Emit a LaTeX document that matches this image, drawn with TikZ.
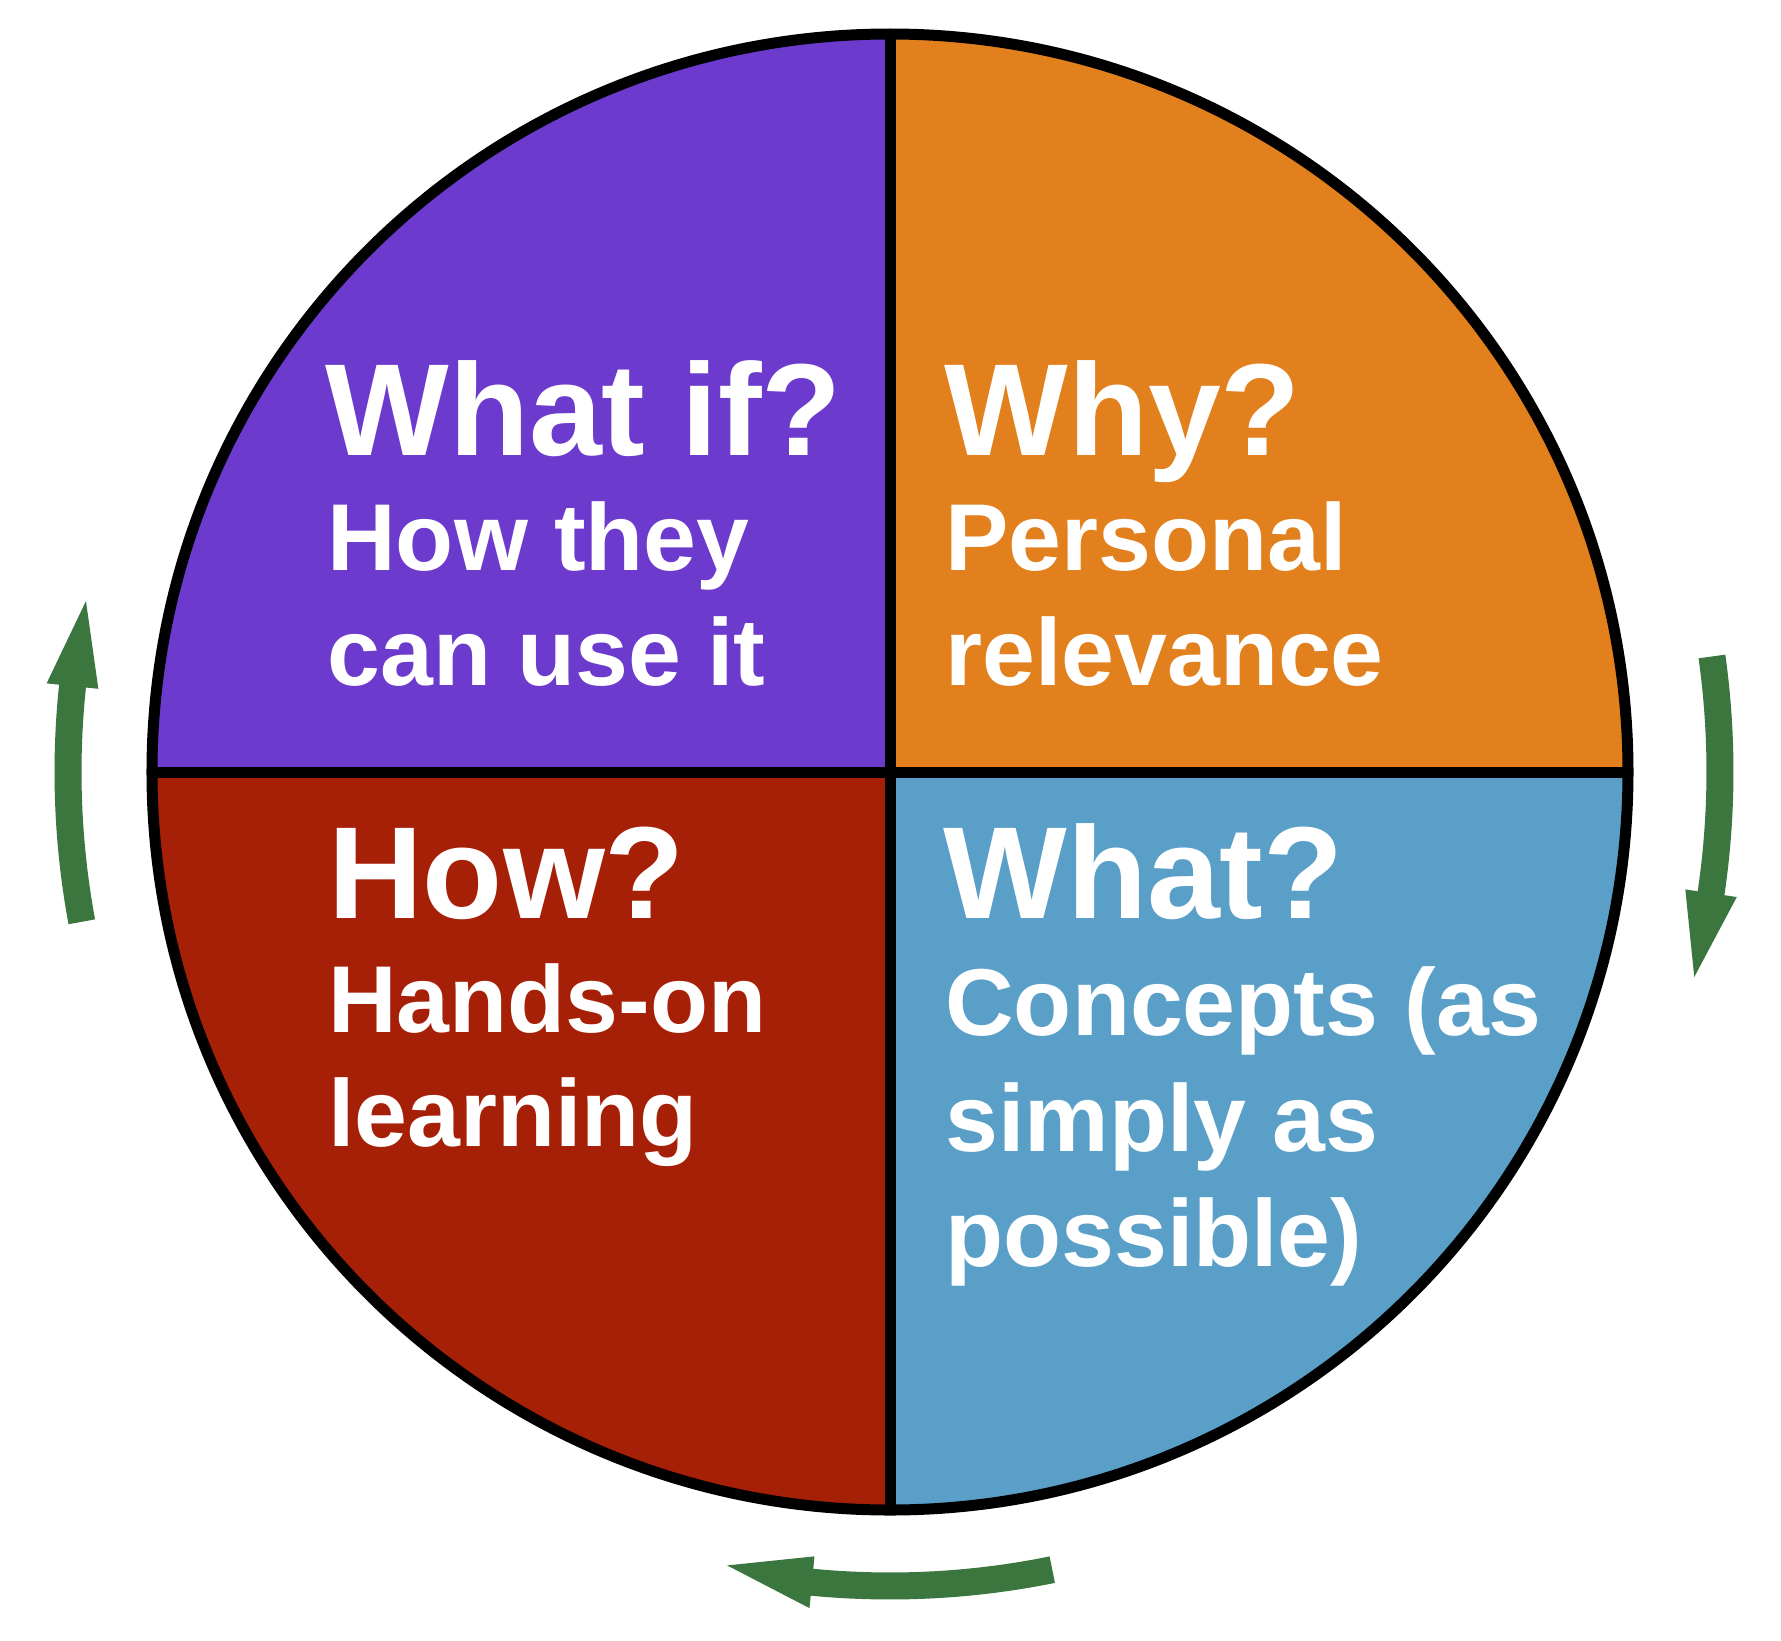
\documentclass[tikz,border=0pt]{standalone}
\usepackage{fontspec}
\setmainfont{Liberation Sans}
\definecolor{qpurple}{RGB}{108,58,205}
\definecolor{qorange}{RGB}{227,128,30}
\definecolor{qred}{RGB}{166,32,8}
\definecolor{qblue}{RGB}{89,159,199}
\definecolor{cycgreen}{RGB}{58,118,62}
\begin{document}
\begin{tikzpicture}[x=0.5pt,y=0.5pt,
  titletext/.style={anchor=base west, inner sep=0pt, text=white, font=\fontsize{65.5}{70}\selectfont\bfseries},
  subtext/.style={anchor=base west, inner sep=0pt, text=white, font=\fontsize{47.5}{52}\selectfont\bfseries},
  divider/.style={draw=black, line width=5.5pt},
  wheel/.style={circle, draw=black, line width=5.5pt, minimum size=738pt, inner sep=0pt},
  shaft/.style={draw=cycgreen, line width=13.5pt},
  head/.style={fill=cycgreen}]
\useasboundingbox[fill=white] (-890,-868) rectangle (891,772);
\coordinate (C) at (0,0);
\coordinate (top) at (0,738);
\coordinate (bot) at (0,-738);
\coordinate (lft) at (-738,0);
\coordinate (rgt) at (738,0);
% quadrants
\fill[qorange] (C) -- (rgt) arc[start angle=0, end angle=90, radius=738] -- cycle;
\fill[qpurple] (C) -- (top) arc[start angle=90, end angle=180, radius=738] -- cycle;
\fill[qred] (C) -- (lft) arc[start angle=180, end angle=270, radius=738] -- cycle;
\fill[qblue] (C) -- (bot) arc[start angle=270, end angle=360, radius=738] -- cycle;
% dividers
\draw[divider] (top) -- (bot);
\draw[divider] (lft) -- (rgt);
% outline
\node[wheel] (wheel) at (C) {};
% texts
\node[titletext] (whatif) at (-565,317) {What if?};
\node[subtext] (whatifa) at (-563,202) {How they};
\node[subtext] (whatifb) at (-563,87) {can use it};
\node[titletext] (why) at (54,317) {Why?};
\node[subtext] (whya) at (55,202) {Personal};
\node[subtext] (whyb) at (55,87) {relevance};
\node[titletext] (how) at (-562,-146) {How?};
\node[subtext] (howa) at (-562,-260) {Hands-on};
\node[subtext] (howb) at (-562,-374) {learning};
\node[titletext] (what) at (53,-146) {What?};
\node[subtext] (whata) at (55,-263) {Concepts (as};
\node[subtext] (whatb) at (55,-379) {simply as};
\node[subtext] (whatc) at (55,-494) {possible)};
% cycle arrows
\draw[shaft] (8:830) arc[start angle=8, end angle=-8.6, radius=830];
\fill[head] (-8.4:804) -- (-8.4:856) -- (-14.3:830) -- cycle;
\draw[shaft] (-78.5:814) arc[start angle=-78.5, end angle=-95.7, radius=814];
\fill[head] (-95.5:788) -- (-95.5:840) -- (-101.6:810) -- cycle;
\draw[shaft] (190.5:822) arc[start angle=190.5, end angle=173.8, radius=822];
\fill[head] (174:796) -- (174:848) -- (168:822) -- cycle;
\end{tikzpicture}
\end{document}
